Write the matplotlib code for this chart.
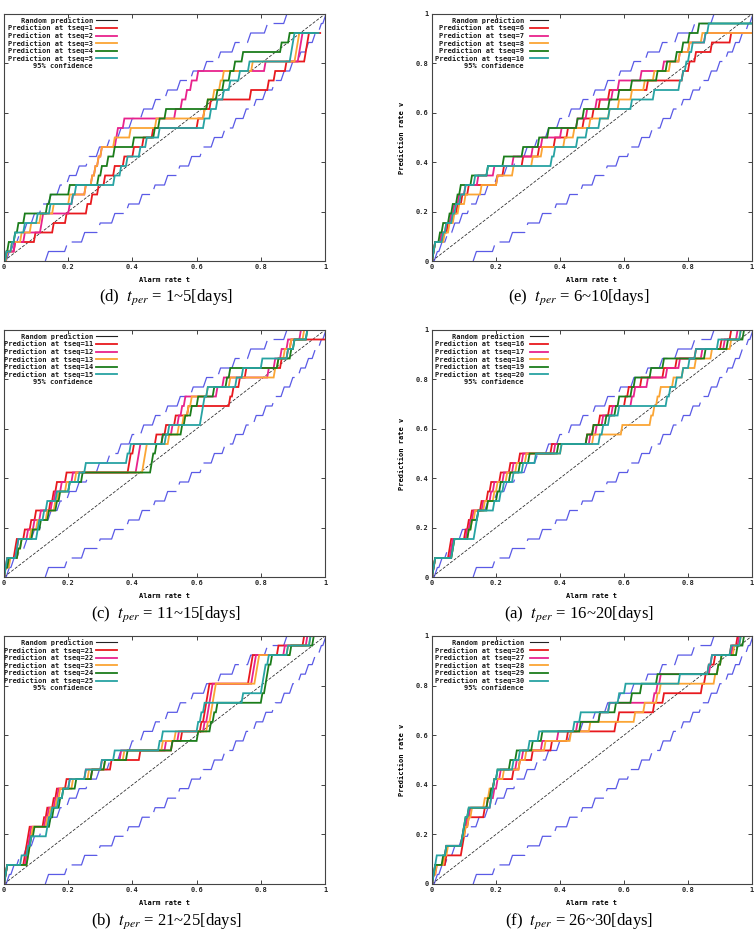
import matplotlib
matplotlib.use("Agg")
import matplotlib.pyplot as plt

plt.rcParams["mathtext.fontset"] = "stix"

# ---------------- data ----------------
n_targets = 26  # each target event raises the prediction rate by 1/26

# 95% confidence band: alarm rates t at which the staircase reaches each level
band_upper_t = [0.0068, 0.0214, 0.0400, 0.0615, 0.0851, 0.1103, 0.1370, 0.1650, 0.1941,
                0.2243, 0.2554, 0.2875, 0.3206, 0.3546, 0.3895, 0.4253, 0.4622, 0.5001,
                0.5392, 0.5795, 0.6212, 0.6647, 0.7102, 0.7586, 0.8111, 0.8713]
band_lower_start = 0.1287
band_lower_t = [0.1287, 0.1889, 0.2414, 0.2898, 0.3353, 0.3788, 0.4205, 0.4608, 0.4999,
                0.5378, 0.5747, 0.6105, 0.6454, 0.6794, 0.7125, 0.7446, 0.7757, 0.8059,
                0.8350, 0.8630, 0.8897, 0.9149, 0.9385, 0.9600, 0.9787, 0.9932]

random_t = [0.0, 1.0]
random_v = [0.0, 1.0]

# panel (d): tseq = 1..5
d_ev = [
    [0.005, 0.03, 0.093, 0.15, 0.19, 0.255, 0.27, 0.29, 0.31, 0.34, 0.37, 0.40, 0.43, 0.46,
     0.60, 0.62, 0.64, 0.765, 0.82, 0.84, 0.875, 0.935, 0.94, 0.945],
    [0.003, 0.03, 0.06, 0.112, 0.117, 0.20, 0.21, 0.25, 0.27, 0.28, 0.29, 0.30, 0.345, 0.35,
     0.37, 0.53, 0.55, 0.565, 0.58, 0.60, 0.81, 0.915, 0.918, 0.92],
    [0.005, 0.02, 0.05, 0.08, 0.11, 0.15, 0.20, 0.25, 0.27, 0.28, 0.29, 0.30, 0.34, 0.39,
     0.47, 0.62, 0.63, 0.65, 0.67, 0.68, 0.77, 0.905, 0.91, 0.915],
    [0.003, 0.01, 0.03, 0.04, 0.06, 0.13, 0.14, 0.20, 0.29, 0.30, 0.32, 0.34, 0.40, 0.465,
     0.48, 0.50, 0.63, 0.66, 0.68, 0.70, 0.715, 0.74, 0.86, 0.885],
    [0.003, 0.02, 0.03, 0.06, 0.10, 0.14, 0.21, 0.22, 0.34, 0.36, 0.38, 0.42, 0.44, 0.48,
     0.62, 0.64, 0.66, 0.68, 0.70, 0.73, 0.76, 0.89, 0.895, 0.90],
]
d_end = [0.985, 0.96, 0.96, 0.97, 0.98]

# panel (e): tseq = 6..10
e_ev = [
    [0.0, 0.0, 0.03, 0.045, 0.06, 0.075, 0.09, 0.11, 0.20, 0.22, 0.28, 0.33, 0.38, 0.42,
     0.47, 0.50, 0.52, 0.55, 0.67, 0.78, 0.80, 0.82, 0.87, 0.93],
    [0.0, 0.0, 0.025, 0.04, 0.055, 0.065, 0.08, 0.10, 0.14, 0.19, 0.25, 0.31, 0.34, 0.40,
     0.45, 0.48, 0.51, 0.56, 0.58, 0.65, 0.72, 0.77, 0.80, 0.85],
    [0.0, 0.0, 0.035, 0.05, 0.065, 0.08, 0.10, 0.15, 0.20, 0.25, 0.31, 0.34, 0.41, 0.44,
     0.49, 0.55, 0.58, 0.62, 0.66, 0.69, 0.74, 0.77, 0.80, 0.84],
    [0.0, 0.0, 0.02, 0.03, 0.05, 0.06, 0.075, 0.085, 0.12, 0.17, 0.22, 0.28, 0.33, 0.36,
     0.45, 0.47, 0.55, 0.58, 0.62, 0.70, 0.73, 0.76, 0.78, 0.80, 0.83],
    [0.0, 0.0, 0.03, 0.04, 0.06, 0.07, 0.085, 0.10, 0.13, 0.17, 0.37, 0.38, 0.45, 0.48,
     0.52, 0.55, 0.62, 0.69, 0.77, 0.78, 0.79, 0.80, 0.81, 0.85, 0.86],
]
e_end = [1.0, 1.0, 1.0, 1.0, 1.0]

# panel (c): tseq = 11..15
c_ev = [
    [0.0, 0.005, 0.03, 0.035, 0.06, 0.08, 0.095, 0.14, 0.15, 0.16, 0.19, 0.385, 0.39, 0.40,
     0.47, 0.50, 0.53, 0.57, 0.70, 0.71, 0.73, 0.75, 0.86, 0.88, 0.89],
    [0.0, 0.01, 0.035, 0.04, 0.07, 0.09, 0.11, 0.145, 0.155, 0.175, 0.21, 0.41, 0.415, 0.42,
     0.49, 0.52, 0.54, 0.55, 0.56, 0.66, 0.68, 0.82, 0.84, 0.86, 0.88, 0.92],
    [0.0, 0.015, 0.04, 0.05, 0.08, 0.10, 0.13, 0.155, 0.165, 0.19, 0.22, 0.43, 0.435, 0.44,
     0.51, 0.54, 0.555, 0.57, 0.58, 0.63, 0.70, 0.84, 0.85, 0.87, 0.89, 0.93],
    [0.0, 0.01, 0.04, 0.05, 0.085, 0.11, 0.135, 0.16, 0.17, 0.20, 0.24, 0.455, 0.46, 0.47,
     0.49, 0.55, 0.56, 0.58, 0.60, 0.65, 0.69, 0.70, 0.85, 0.89, 0.90, 0.94],
    [0.0, 0.0, 0.035, 0.04, 0.10, 0.105, 0.12, 0.13, 0.16, 0.20, 0.23, 0.25, 0.38, 0.39,
     0.50, 0.51, 0.61, 0.615, 0.62, 0.63, 0.72, 0.74, 0.80, 0.88, 0.90, 0.94],
]
c_end = [1.0, 1.0, 1.0, 1.0, 1.0]

# panel (a): tseq = 16..20
a_ev = [
    [0.0, 0.005, 0.05, 0.055, 0.10, 0.11, 0.12, 0.15, 0.17, 0.18, 0.21, 0.24, 0.27, 0.37,
     0.48, 0.50, 0.52, 0.55, 0.60, 0.61, 0.65, 0.72, 0.76, 0.82, 0.90, 0.93],
    [0.0, 0.005, 0.055, 0.06, 0.105, 0.115, 0.125, 0.155, 0.18, 0.19, 0.22, 0.25, 0.28, 0.38,
     0.49, 0.51, 0.53, 0.56, 0.62, 0.63, 0.67, 0.73, 0.77, 0.84, 0.91, 0.95],
    [0.0, 0.005, 0.06, 0.065, 0.11, 0.12, 0.13, 0.16, 0.19, 0.20, 0.23, 0.26, 0.29, 0.40,
     0.50, 0.59, 0.68, 0.69, 0.70, 0.71, 0.75, 0.78, 0.82, 0.87, 0.93, 0.96],
    [0.0, 0.005, 0.06, 0.065, 0.11, 0.12, 0.14, 0.17, 0.20, 0.21, 0.24, 0.27, 0.30, 0.39,
     0.48, 0.50, 0.54, 0.57, 0.58, 0.62, 0.63, 0.68, 0.72, 0.85, 0.92, 0.97],
    [0.0, 0.0, 0.06, 0.065, 0.13, 0.135, 0.14, 0.19, 0.21, 0.22, 0.25, 0.28, 0.32, 0.40,
     0.52, 0.53, 0.55, 0.58, 0.73, 0.74, 0.76, 0.78, 0.80, 0.82, 0.89, 0.96],
]
a_end = [1.0, 1.0, 1.0, 1.0, 1.0]

# panel (b): tseq = 21..25
b_ev = [
    [0.0, 0.005, 0.06, 0.065, 0.07, 0.075, 0.12, 0.13, 0.15, 0.16, 0.19, 0.27, 0.33, 0.42,
     0.52, 0.55, 0.61, 0.62, 0.625, 0.63, 0.635, 0.76, 0.765, 0.77, 0.85, 0.93],
    [0.0, 0.005, 0.065, 0.07, 0.075, 0.08, 0.125, 0.135, 0.155, 0.165, 0.20, 0.25, 0.30, 0.36,
     0.50, 0.54, 0.62, 0.63, 0.635, 0.64, 0.645, 0.77, 0.775, 0.78, 0.87, 0.94],
    [0.0, 0.005, 0.07, 0.075, 0.08, 0.085, 0.13, 0.14, 0.16, 0.17, 0.21, 0.26, 0.31, 0.37,
     0.49, 0.53, 0.63, 0.64, 0.645, 0.65, 0.655, 0.78, 0.785, 0.79, 0.88, 0.95],
    [0.0, 0.005, 0.07, 0.075, 0.08, 0.09, 0.14, 0.15, 0.17, 0.18, 0.22, 0.27, 0.31, 0.38,
     0.52, 0.60, 0.64, 0.65, 0.66, 0.80, 0.81, 0.815, 0.82, 0.83, 0.89, 0.96],
    [0.0, 0.0, 0.05, 0.07, 0.08, 0.13, 0.135, 0.145, 0.165, 0.18, 0.20, 0.25, 0.30, 0.34,
     0.48, 0.49, 0.60, 0.61, 0.62, 0.74, 0.80, 0.805, 0.81, 0.82, 0.88, 0.95],
]
b_end = [1.0, 1.0, 1.0, 1.0, 1.0]

# panel (f): tseq = 26..30
f_ev = [
    [0.0, 0.005, 0.04, 0.09, 0.095, 0.10, 0.11, 0.16, 0.17, 0.18, 0.19, 0.25, 0.27, 0.31,
     0.37, 0.42, 0.57, 0.58, 0.69, 0.72, 0.84, 0.85, 0.86, 0.88, 0.93, 0.95],
    [0.0, 0.01, 0.035, 0.04, 0.09, 0.095, 0.105, 0.115, 0.18, 0.19, 0.20, 0.21, 0.26, 0.28,
     0.34, 0.39, 0.45, 0.52, 0.55, 0.69, 0.70, 0.71, 0.865, 0.87, 0.935, 0.955],
    [0.0, 0.01, 0.035, 0.045, 0.09, 0.10, 0.11, 0.12, 0.16, 0.175, 0.19, 0.22, 0.27, 0.29,
     0.35, 0.43, 0.49, 0.63, 0.66, 0.70, 0.71, 0.88, 0.89, 0.90, 0.94, 0.96],
    [0.0, 0.005, 0.03, 0.04, 0.09, 0.095, 0.10, 0.11, 0.17, 0.18, 0.19, 0.20, 0.24, 0.26,
     0.31, 0.34, 0.46, 0.52, 0.57, 0.62, 0.65, 0.70, 0.89, 0.90, 0.95, 0.97],
    [0.0, 0.0, 0.01, 0.04, 0.09, 0.095, 0.10, 0.11, 0.18, 0.185, 0.19, 0.20, 0.25, 0.27,
     0.30, 0.33, 0.44, 0.46, 0.55, 0.58, 0.60, 0.77, 0.86, 0.87, 0.93, 0.96],
]
f_end = [1.0, 1.0, 1.0, 1.0, 1.0]

panel_letters = ["d", "e", "c", "a", "b", "f"]
panel_ranges = ["1~5", "6~10", "11~15", "16~20", "21~25", "26~30"]
panel_tseq = [[1, 2, 3, 4, 5], [6, 7, 8, 9, 10], [11, 12, 13, 14, 15],
              [16, 17, 18, 19, 20], [21, 22, 23, 24, 25], [26, 27, 28, 29, 30]]
panel_events = [d_ev, e_ev, c_ev, a_ev, b_ev, f_ev]
panel_ends = [d_end, e_end, c_end, a_end, b_end, f_end]

x_ticks = [0, 0.2, 0.4, 0.6, 0.8, 1]
x_tick_labels = ["0", "0.2", "0.4", "0.6", "0.8", "1"]

series_colors = ["#e8191e", "#e8228c", "#fba534", "#1b7d1b", "#27a3a3"]
band_color = "#5a5ae6"

# ---------------- helpers ----------------
def staircase(events, t_end=None, t_start=0.0, rise=0.005):
    xs, ys = [t_start], [0.0]
    for k, e in enumerate(events, 1):
        x0 = max(e, xs[-1])
        xs.append(x0)
        ys.append((k - 1) / n_targets)
        xs.append(x0 + rise)
        ys.append(k / n_targets)
    if t_end is not None and t_end > xs[-1]:
        xs.append(t_end)
        ys.append(ys[-1])
    return xs, ys

W, H = 755, 944
fig = plt.figure(figsize=(W / 100, H / 100), dpi=100)

col_left = [4, 432]
col_width = [321, 320]
row_top = [14, 330, 636]
row_bottom = [261, 577, 884]
caption_y = [297, 614, 921]
caption_x = [166, 579]

mono = "DejaVu Sans Mono"

for idx in range(6):
    r, c = divmod(idx, 2)
    left = col_left[c] / W
    width = col_width[c] / W
    bottom = 1 - row_bottom[r] / H
    height = (row_bottom[r] - row_top[r]) / H
    ax = fig.add_axes([left, bottom, width, height])
    ax.set_xlim(0, 1)
    ax.set_ylim(0, 1)

    # confidence band
    ux, uy = staircase(band_upper_t, rise=0.01)
    lx, ly = staircase(band_lower_t, t_start=band_lower_start, rise=0.01)
    for bx, by in ((ux, uy), (lx, ly)):
        ax.plot(bx, by, color=band_color, lw=0.9, linestyle=(0, (26, 6)),
                solid_capstyle="butt", clip_on=True)

    # random prediction
    ax.plot(random_t, random_v, color="#222222", lw=0.55, linestyle=(0, (4, 2)))

    # prediction curves
    for s in range(5):
        xs, ys = staircase(panel_events[idx][s], panel_ends[idx][s])
        ax.plot(xs, ys, color=series_colors[s], lw=1.3, solid_joinstyle="miter")

    # axes styling
    ax.set_xticks(x_ticks)
    ax.set_yticks(x_ticks)
    ax.set_xticklabels(x_tick_labels, fontfamily=mono, fontsize=5, fontweight="bold")
    if c == 1:
        ax.set_yticklabels(x_tick_labels, fontfamily=mono, fontsize=5, fontweight="bold")
        ax.set_ylabel("Prediction rate v", fontfamily=mono, fontsize=5, fontweight="bold")
        ax.yaxis.set_label_coords(-0.085, 0.5)
    ax.tick_params(direction="in", length=3, width=0.6, top=True, right=True,
                   labelleft=(c == 1), pad=2.5, colors="#222222")
    ax.set_xlabel("Alarm rate t", fontfamily=mono, fontsize=5, fontweight="bold")
    ax.xaxis.set_label_coords(0.5, -0.065)
    for sp in ax.spines.values():
        sp.set_linewidth(0.8)
        sp.set_color("#444444")

    # gnuplot-style key (text right-aligned, sample to its right)
    names = ["Random prediction"] + ["Prediction at tseq=%d" % t for t in panel_tseq[idx]] + ["95% confidence"]
    colors = ["#222222"] + series_colors + [None]
    txt_right = 0.277 if c == 0 else 0.2875
    s0 = 0.286 if c == 0 else 0.306
    s1 = 0.352 if c == 0 else 0.3625
    y0, dy = 0.974, 0.0308
    for j, (nm, col) in enumerate(zip(names, colors)):
        yy = y0 - j * dy
        ax.text(txt_right, yy, nm, transform=ax.transAxes, ha="right", va="center",
                fontfamily=mono, fontsize=5, fontweight="bold", color="#1a1a1a")
        if col is not None:
            ax.plot([s0, s1], [yy, yy], transform=ax.transAxes, color=col,
                    lw=0.8 if j == 0 else 1.3)

    fig.text(caption_x[c] / W, 1 - caption_y[r] / H,
             "(%s)  $t_{per}$ = %s[days]" % (panel_letters[idx], panel_ranges[idx]),
             ha="center", va="center", fontsize=12, fontfamily="Liberation Serif")

fig.savefig("out.png", dpi=100)
